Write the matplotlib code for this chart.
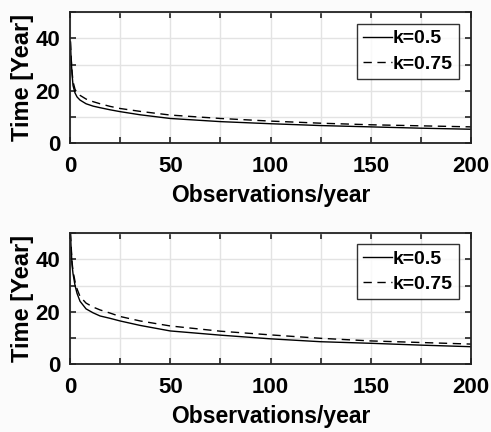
import matplotlib
matplotlib.use("Agg")
import matplotlib.pyplot as plt
from matplotlib.ticker import FixedLocator, FuncFormatter

plt.rcParams['font.family'] = ['Liberation Sans', 'DejaVu Sans']
plt.rcParams['font.weight'] = 'bold'

# Observations per year
obs = [0.2, 0.5, 1, 1.5, 2.5, 3.5, 5, 8, 11.5, 15, 20, 25, 35, 50, 75, 100, 125, 150, 175, 200]

# Upper panel: time in years
top_k050 = [38.7, 33, 26.6, 22, 19.2, 17.7, 16.5, 15.1, 14.2, 13.6, 12.8, 12.1, 10.9, 9.5, 8.3, 7.5, 6.8, 6.3, 5.8, 5.4]
top_k075 = [38.7, 33.5, 27.5, 23.5, 20.6, 19.3, 18.3, 16.9, 15.9, 15.1, 14.1, 13.3, 12.2, 10.8, 9.5, 8.5, 7.7, 7.1, 6.7, 6.3]

# Lower panel: time in years
bot_k050 = [50, 45, 38, 34.5, 30, 27, 24, 21.1, 19.6, 18.4, 17.5, 16.5, 14.8, 12.7, 11.1, 9.7, 8.6, 8.0, 7.3, 6.7]
bot_k075 = [50, 46, 39, 35.5, 31.5, 28.7, 25.8, 23.3, 21.8, 20.7, 19.5, 18.2, 16.5, 14.6, 12.6, 11.2, 9.9, 8.9, 8.3, 7.7]

labels = ['k=0.5', 'k=0.75']
x_ticks = [0, 25, 50, 75, 100, 125, 150, 175, 200]
y_ticks = [0, 10, 20, 30, 40, 50]

fig = plt.figure(figsize=(4.91, 4.32), dpi=100, facecolor='#fbfbfb')

def draw(ax, s1, s2, leg_top):
    ax.plot(obs, s1, color='black', lw=1.0, ls='-', label=labels[0])
    ax.plot(obs, s2, color='black', lw=1.0, ls=(0, (6, 4)), label=labels[1])
    ax.set_xlim(0, 200)
    ax.set_ylim(0, 50)
    ax.xaxis.set_major_locator(FixedLocator(x_ticks))
    ax.yaxis.set_major_locator(FixedLocator(y_ticks))
    ax.xaxis.set_major_formatter(FuncFormatter(lambda v, p: f"{int(v)}" if v % 50 == 0 else ""))
    ax.yaxis.set_major_formatter(FuncFormatter(lambda v, p: f"{int(v)}" if v % 20 == 0 and v < 50 else ""))
    ax.grid(True, color='#e3e3e3', lw=1.0)
    ax.set_axisbelow(True)
    ax.tick_params(direction='in', length=4, width=1.2, top=True, right=True,
                   labelsize=16, color='#222222')
    ax.tick_params(axis='x', pad=9)
    ax.tick_params(axis='y', pad=7)
    for s in ax.spines.values():
        s.set_linewidth(1.3)
        s.set_color('#222222')
    ax.set_xlabel('Observations/year', fontsize=16.5, fontweight='bold', labelpad=5)
    ax.set_ylabel('Time [Year]', fontsize=17, fontweight='bold', labelpad=1)
    leg = ax.legend(loc='upper right', bbox_to_anchor=(0.969, leg_top), fontsize=14,
                    frameon=True, fancybox=False, edgecolor='black', handlelength=1.5,
                    handletextpad=0.05, borderpad=0.3, labelspacing=0.4, borderaxespad=0)
    leg.get_frame().set_linewidth(1.0)
    for t in leg.get_texts():
        t.set_fontweight('bold')

ax1 = fig.add_axes([0.1426, 0.668, 0.8167, 0.304])
draw(ax1, top_k050, top_k075, 0.909)
ax2 = fig.add_axes([0.1426, 0.1567, 0.8167, 0.304])
draw(ax2, bot_k050, bot_k075, 0.914)

fig.savefig('out.png', dpi=100, facecolor=fig.get_facecolor())
